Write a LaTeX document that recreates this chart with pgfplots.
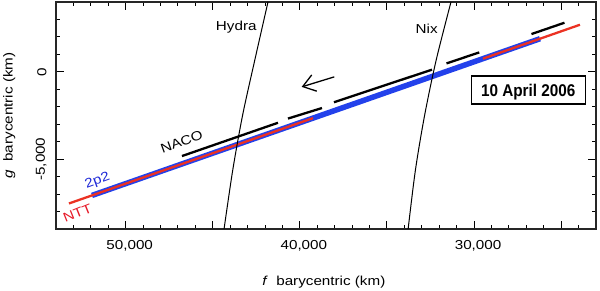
\documentclass[border=0pt]{standalone}
\usepackage{fontspec}
\setmainfont{Liberation Sans}[FakeStretch=1.17]
\newfontfamily\boxfont{Liberation Sans}[FakeStretch=0.9]
\usepackage{pgfplots}
\pgfplotsset{compat=1.18}
\usetikzlibrary{arrows.meta}
\definecolor{nttred}{RGB}{235,50,35}
\definecolor{ppblue}{RGB}{35,65,235}
\definecolor{labblue}{RGB}{30,40,215}
\definecolor{labred}{RGB}{230,25,40}
\begin{document}
\begin{tikzpicture}
\useasboundingbox (-56pt,-62pt) rectangle (544pt,229pt);
\begin{axis}[
  at={(0,0)}, anchor=south west,
  scale only axis, width=540pt, height=227pt,
  x dir=reverse,
  xmin=23000, xmax=54000, ymin=-9000, ymax=4000,
  scaled x ticks=false, scaled y ticks=false,
  xtick={25000,30000,35000,40000,45000,50000},
  xticklabels={,{30,000},,{40,000},,{50,000}},
  minor xtick={23000,24000,...,54000},
  ytick={-5000,0},
  yticklabels={{-5,000},0},
  minor ytick={-9000,-8000,...,4000},
  major tick length=8pt, minor tick length=4.3pt,
  tick style={black, line width=1pt},
  axis line style={line width=1.3pt, black!85},
  tick label style={font=\fontsize{13}{15}\selectfont},
  xticklabel shift=8pt,
  xticklabel style={xshift=4pt},
  yticklabel style={rotate=90, anchor=south},
  yticklabel shift=6pt,
  xlabel={\textit{f}\ \ barycentric (km)},
  ylabel={\textit{g}\ \ barycentric (km)},
  label style={font=\fontsize{13}{15}\selectfont},
  xlabel style={at={(axis description cs:0.496,-0.2467)}, anchor=base},
  ylabel style={at={(axis description cs:-0.0802,0.5)}, anchor=base},
]
% 2p2 (blue)
\addplot[ppblue, line width=5.5pt, no marks] coordinates {(51933,-7077) (26216,1896)};
% NTT (red)
\addplot[nttred, line width=2.3pt, no marks] coordinates {(53254,-7538) (39247,-2651)};
\addplot[nttred, line width=2.3pt, no marks] coordinates {(29488,754) (23920,2697)};
% NACO (black dashed segments)
\addplot[black, line width=2.3pt, no marks] coordinates {(46767,-4823) (41256,-2917)};
\addplot[black, line width=2.3pt, no marks] coordinates {(40682,-2676) (38731,-2073)};
\addplot[black, line width=2.3pt, no marks] coordinates {(38041,-1741) (32416,125)};
\addplot[black, line width=2.3pt, no marks] coordinates {(31583,481) (29700,1113)};
\addplot[black, line width=2.3pt, no marks] coordinates {(26704,2163) (24810,2812)};
% Hydra
\addplot[black, line width=1pt, no marks, smooth] coordinates {(41830,4000) (42588,671) (43288,-2487) (43856,-5644) (44356,-9031)};
% Nix
\addplot[black, line width=1pt, no marks, smooth] coordinates {(31325,4000) (32175,671) (32838,-2487) (33369,-5644) (33788,-9031)};
% arrow
\draw[line width=1.3pt, -{Straight Barb[length=12pt,width=17pt]}] (axis cs:38024,-288) -- (axis cs:39896,-862);
% labels
\node[anchor=base, font=\fontsize{13}{15}\selectfont] at (axis cs:43650,2393) {Hydra};
\node[anchor=base, font=\fontsize{13}{15}\selectfont] at (axis cs:32720,2203) {Nix};
\node[rotate=20, font=\fontsize{13}{15}\selectfont] at (axis cs:46784,-4020) {NACO};
\node[rotate=20, text=labblue, font=\fontsize{13}{15}\selectfont] at (axis cs:51618,-6275) {2p2};
\node[rotate=22, text=labred, font=\fontsize{13}{15}\selectfont] at (axis cs:52766,-8084) {NTT};
\node[draw, line width=1.5pt, fill=white, minimum width=114pt, minimum height=28pt, inner sep=0pt, text height=12.3pt, text depth=0pt, font=\boxfont\bfseries\fontsize{17}{20}\selectfont] at (axis cs:26888,-1052) {10 April 2006};
\end{axis}
\end{tikzpicture}
\end{document}
